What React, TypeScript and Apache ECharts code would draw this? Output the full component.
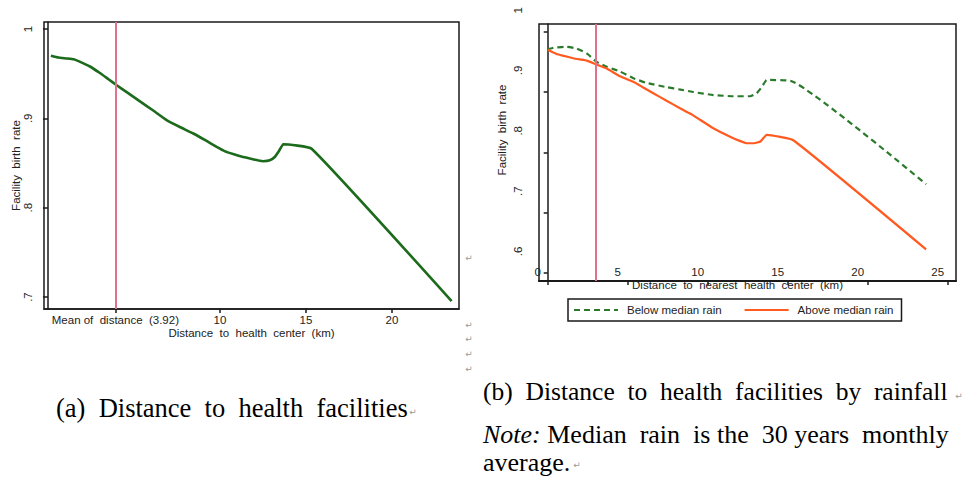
import React, { useEffect, useRef } from 'react';
import * as echarts from 'echarts';

// ---- Data ----
const leftDistance = [0.17, 0.6, 1.09, 1.5, 2.0, 2.44, 3.0, 3.5, 4.0, 4.6, 5.35, 6.1, 6.9, 7.7, 8.45, 9.2, 9.81, 10.3, 10.77, 11.3, 11.74, 12.2, 12.52, 12.9, 13.2, 13.45, 13.68, 15.33, 23.47];
const leftRate = [0.970, 0.968, 0.967, 0.966, 0.962, 0.958, 0.951, 0.944, 0.937, 0.929, 0.919, 0.909, 0.898, 0.890, 0.883, 0.875, 0.868, 0.863, 0.860, 0.857, 0.855, 0.853, 0.852, 0.853, 0.857, 0.864, 0.871, 0.866, 0.6955];

const belowDistance = [0.0, 0.3, 0.56, 1.19, 1.81, 2.44, 3.06, 3.69, 4.52, 5.35, 6.19, 7.44, 8.3, 9.1, 10.35, 11.6, 12.65, 13.06, 13.4, 13.69, 15.25, 23.65];
const belowRate = [0.971, 0.973, 0.974, 0.975, 0.972, 0.964, 0.950, 0.942, 0.934, 0.923, 0.915, 0.908, 0.904, 0.900, 0.895, 0.893, 0.893, 0.898, 0.909, 0.920, 0.918, 0.747];

const aboveDistance = [0.0, 0.56, 1.0, 1.6, 2.0, 2.44, 3.0, 3.69, 4.52, 5.35, 6.0, 6.6, 7.4, 8.27, 9.0, 9.52, 10.35, 11.4, 12.0, 12.44, 12.9, 13.3, 13.69, 15.35, 23.65];
const aboveRate = [0.970, 0.963, 0.960, 0.956, 0.954, 0.952, 0.946, 0.939, 0.926, 0.917, 0.907, 0.898, 0.886, 0.873, 0.863, 0.854, 0.840, 0.826, 0.819, 0.815, 0.815, 0.818, 0.829, 0.820, 0.639];

const leftMeanDistance = 3.92;
const rightMarkerDistance = 3.0;

const leftXTickValues = [3.92, 10, 15, 20];
const leftXTickLabels = ['Mean of  distance  (3.92)', '10', '15', '20'];
const leftYTickValues = [0.7, 0.8, 0.9, 1];
const leftYTickLabels = ['.7', '.8', '.9', '1'];

const rightXTickValues = [0, 5, 10, 15, 20, 25];
const rightXTickLabels = ['0', '5', '10', '15', '20', '25'];
const rightYTickValues = [0.6, 0.7, 0.8, 0.9, 1];
const rightYTickLabels = ['.6', '.7', '.8', '.9', '1'];

const seriesNames = ['Below median rain', 'Above median rain'];

const SANS = '"Liberation Sans", Arial, sans-serif';
const SERIF = '"Liberation Serif", "Times New Roman", serif';

function labelFor(values: number[], labels: string[]) {
  return (v: number) => {
    const i = values.findIndex((t) => Math.abs(t - v) < 1e-6);
    return i >= 0 ? labels[i] : '';
  };
}

function pairs(xs: number[], ys: number[]) {
  return xs.map((x, i) => [x, ys[i]]);
}

export default function App() {
  const ref = useRef<HTMLDivElement>(null);

  useEffect(() => {
    if (!ref.current) return;
    const chart = echarts.init(ref.current, undefined, { renderer: 'svg' });
    const axisColor = '#1a1a1a';
    const textColor = '#222';
    const pilcrow = (x: number, y: number) => ({
      type: 'text',
      x,
      y,
      silent: true,
      style: { text: '\u21b5', fill: '#9a9a9a', font: '9px "DejaVu Sans", sans-serif', align: 'center', verticalAlign: 'middle' },
    });

    const option: any = {
      animation: false,
      backgroundColor: '#ffffff',
      grid: [
        { left: 44, top: 22, width: 415, height: 287, show: true, borderColor: axisColor, borderWidth: 1.5, backgroundColor: 'transparent' },
        { left: 539, top: 24, width: 417, height: 257, show: true, borderColor: axisColor, borderWidth: 1.5, backgroundColor: 'transparent' },
      ],
      xAxis: [
        {
          gridIndex: 0,
          type: 'value',
          min: -0.23,
          max: 23.9,
          name: 'Distance  to  health  center  (km)',
          nameLocation: 'middle',
          nameGap: 18,
          nameMoveOverlap: false,
          nameTextStyle: { fontFamily: SANS, fontSize: 11.5, color: textColor },
          axisLine: { show: true, lineStyle: { color: axisColor, width: 1.5 } },
          axisTick: { show: true, customValues: leftXTickValues, length: 4, lineStyle: { color: axisColor, width: 1.5 } },
          axisLabel: { customValues: leftXTickValues, formatter: labelFor(leftXTickValues, leftXTickLabels), margin: 5, fontFamily: SANS, fontSize: 11.5, color: textColor },
          splitLine: { show: false },
        },
        {
          gridIndex: 1,
          type: 'value',
          min: -0.544,
          max: 25.52,
          name: 'Distance  to  nearest  health  center  (km)',
          nameLocation: 'middle',
          nameGap: -2,
          nameMoveOverlap: false,
          nameTextStyle: { fontFamily: SANS, fontSize: 11.5, color: textColor, padding: [0, 20, 0, 0] },
          axisLine: { show: true, lineStyle: { color: axisColor, width: 2 } },
          axisTick: { show: true, customValues: rightXTickValues, length: 4, lineStyle: { color: axisColor, width: 1.5 } },
          axisLabel: { customValues: rightXTickValues, formatter: labelFor(rightXTickValues, rightXTickLabels), margin: -15, padding: [0, 20, 0, 0], fontFamily: SANS, fontSize: 11.5, color: textColor },
          splitLine: { show: false },
        },
      ],
      yAxis: [
        {
          gridIndex: 0,
          type: 'value',
          min: 0.6866,
          max: 1.0078,
          name: 'Facility  birth  rate',
          nameLocation: 'middle',
          nameGap: 22,
          nameMoveOverlap: false,
          nameTextStyle: { fontFamily: SANS, fontSize: 11.5, color: textColor },
          axisLine: { show: true, lineStyle: { color: axisColor, width: 1.5 } },
          axisTick: { show: true, customValues: leftYTickValues, length: 5, lineStyle: { color: axisColor, width: 1.5 } },
          axisLabel: { customValues: leftYTickValues, formatter: labelFor(leftYTickValues, leftYTickLabels), rotate: 90, margin: 10, fontFamily: SANS, fontSize: 11.5, color: textColor },
          splitLine: { show: false },
        },
        {
          gridIndex: 1,
          type: 'value',
          min: 0.5866,
          max: 1.0128,
          name: 'Facility  birth  rate',
          nameLocation: 'middle',
          nameGap: 31,
          nameMoveOverlap: false,
          nameTextStyle: { fontFamily: SANS, fontSize: 11.5, color: textColor, padding: [0, 0, 0, 45] },
          axisLine: { show: true, lineStyle: { color: axisColor, width: 1.5 } },
          axisTick: { show: true, customValues: rightYTickValues, length: 4, lineStyle: { color: axisColor, width: 1.5 } },
          axisLabel: { customValues: rightYTickValues, formatter: labelFor(rightYTickValues, rightYTickLabels), rotate: 90, margin: 15, padding: [0, 0, 0, 43], fontFamily: SANS, fontSize: 11.5, color: textColor },
          splitLine: { show: false },
        },
      ],
      legend: {
        data: seriesNames,
        left: 568,
        top: 299,
        orient: 'horizontal',
        borderColor: axisColor,
        borderWidth: 1.5,
        borderRadius: 0,
        padding: [5, 8, 5, 5],
        itemWidth: 44,
        itemHeight: 12,
        itemGap: 22,
        itemStyle: { opacity: 0 },
        textStyle: { fontFamily: SANS, fontSize: 11.5, color: textColor, padding: [0, 0, 0, 4] },
      },
      series: [
        {
          name: 'Facility birth rate',
          type: 'line',
          xAxisIndex: 0,
          yAxisIndex: 0,
          data: pairs(leftDistance, leftRate),
          symbol: 'none',
          showSymbol: false,
          smooth: 0.12,
          lineStyle: { color: '#1c6b1c', width: 2.6 },
          itemStyle: { color: '#1c6b1c' },
          markLine: {
            silent: true,
            symbol: 'none',
            label: { show: false },
            lineStyle: { color: '#e0708c', width: 2, type: 'solid' },
            data: [{ xAxis: leftMeanDistance }],
          },
          z: 3,
        },
        {
          name: seriesNames[0],
          type: 'line',
          xAxisIndex: 1,
          yAxisIndex: 1,
          data: pairs(belowDistance, belowRate),
          symbol: 'none',
          showSymbol: false,
          smooth: 0.15,
          lineStyle: { color: '#2b7a2b', width: 2.2, type: [6, 4] },
          itemStyle: { color: '#2b7a2b' },
          markLine: {
            silent: true,
            symbol: 'none',
            label: { show: false },
            lineStyle: { color: '#e0708c', width: 2, type: 'solid' },
            data: [{ xAxis: rightMarkerDistance }],
          },
          z: 3,
        },
        {
          name: seriesNames[1],
          type: 'line',
          xAxisIndex: 1,
          yAxisIndex: 1,
          data: pairs(aboveDistance, aboveRate),
          symbol: 'none',
          showSymbol: false,
          smooth: 0.12,
          lineStyle: { color: '#ff5a1f', width: 2.2 },
          itemStyle: { color: '#ff5a1f' },
          z: 4,
        },
      ],
      graphic: [
        {
          type: 'text',
          x: 56,
          y: 408,
          silent: true,
          style: { text: '(a)  Distance  to  health  facilities', fill: '#000', font: `26.5px ${SERIF}`, align: 'left', verticalAlign: 'middle' },
        },
        {
          type: 'text',
          x: 483,
          y: 391,
          silent: true,
          style: { text: '(b)  Distance  to  health  facilities  by  rainfall', fill: '#000', font: `25.5px ${SERIF}`, align: 'left', verticalAlign: 'middle' },
        },
        {
          type: 'text',
          x: 483,
          y: 434,
          silent: true,
          style: {
            text: '{i|Note:} Median  rain  is the  30 years  monthly',
            fill: '#000',
            font: `26px ${SERIF}`,
            align: 'left',
            verticalAlign: 'middle',
            rich: { i: { fontStyle: 'italic', fontFamily: SERIF, fontSize: 26, fill: '#000' } },
          },
        },
        {
          type: 'text',
          x: 483,
          y: 462,
          silent: true,
          style: { text: 'average.', fill: '#000', font: `26px ${SERIF}`, align: 'left', verticalAlign: 'middle' },
        },
        pilcrow(469, 258),
        pilcrow(469, 325),
        pilcrow(469, 339),
        pilcrow(469, 354),
        pilcrow(469, 369),
        pilcrow(413, 412),
        pilcrow(959, 396),
        pilcrow(577, 465),
      ],
    };

    chart.setOption(option);
    return () => chart.dispose();
  }, []);

  return (
    <div
      ref={ref}
      style={{ position: 'fixed', left: 0, top: 0, width: 964, height: 478, background: '#fff' }}
    />
  );
}
